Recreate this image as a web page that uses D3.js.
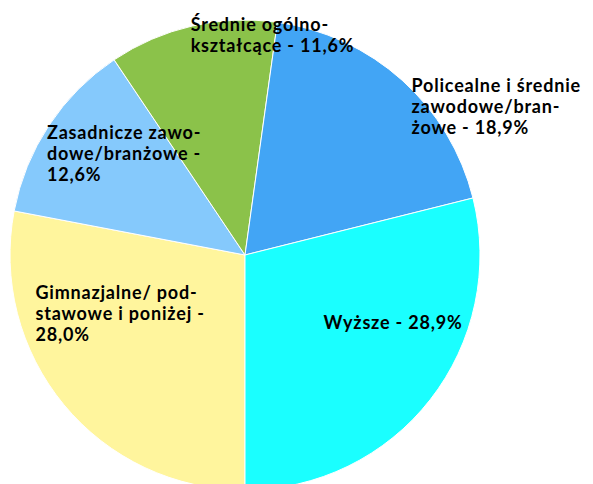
<!DOCTYPE html>
<html>
<head>
<meta charset="utf-8">
<script src="https://cdn.jsdelivr.net/npm/d3@7"></script>
<style>
	body { margin: 0; background: #fff; }
	svg { display: block; }
</style>
</head>
<body>
<svg id="chart"></svg>
<script>
(function(){

	//Chart data
	var categories = ["Gimnazjalne/ podstawowe i poniżej", "Zasadnicze zawodowe/branżowe", "Średnie ogólnokształcące", "Policealne i średnie zawodowe/branżowe", "Wyższe"];
	var shares = [28.0, 12.6, 11.6, 18.9, 28.9];
	//label lines, as broken in the picture
	var labelLines = [
		["Gimnazjalne/ pod-", "stawowe i poniżej -", "28,0%"],
		["Zasadnicze zawo-", "dowe/branżowe -", "12,6%"],
		["Średnie ogólno-", "kształcące - 11,6%"],
		["Policealne i średnie", "zawodowe/bran-", "żowe - 18,9%"],
		["Wyższe - 28,9%"]
	];
	var colors = ["#FFF59D", "#85C9FC", "#8BC24A", "#42A5F5", "#1AFFFF"];

	//SVG Configurations
	var svgWidth = 593;
	var svgHeight = 484;
	var cx = 245, cy = 255;
	var radius = 235;
	var lineHeight = 21;
	//label shift from slice centroid
	var labelNudge = [[-119, -31], [-100, -51], [-28, -109], [88, -76], [-14, 2]];

	var svg = d3.select("#chart")
	.attr("width", svgWidth)
	.attr("height", svgHeight);

	var pie = d3.pie()
	.sort(null)
	.startAngle(Math.PI)
	.endAngle(3 * Math.PI)
	.value(function(d){ return d; });

	var arc = d3.arc().innerRadius(0).outerRadius(radius);

	var slices = pie(shares);

	var g = svg.append("g")
	.attr("transform", "translate(" + cx + "," + cy + ")");

	g.selectAll(".slice")
	.data(slices)
	.enter()
	.append("path")
	.classed("slice", true)
	.attr("d", arc)
	.attr("fill", function(d, i){ return colors[i]; })
	.attr("stroke", "#fff")
	.attr("stroke-width", 1);

	var labels = g.selectAll(".label")
	.data(slices)
	.enter()
	.append("text")
	.classed("label", true)
	.attr("transform", function(d, i){
		var c = arc.centroid(d);
		return "translate(" + (c[0] + labelNudge[i][0]) + "," + (c[1] + labelNudge[i][1]) + ")";
	})
	.attr("font-family", "Lato, 'Open Sans', sans-serif")
	.attr("font-weight", "bold")
	.attr("font-size", "18px")
	.attr("letter-spacing", "0.8px")
	.attr("fill", "#000");

	labels.selectAll("tspan")
	.data(function(d, i){ return labelLines[i]; })
	.enter()
	.append("tspan")
	.attr("x", 0)
	.attr("dy", function(d, j){ return j === 0 ? 0 : lineHeight; })
	.text(function(d){ return d; });

})();
</script>
</body>
</html>
